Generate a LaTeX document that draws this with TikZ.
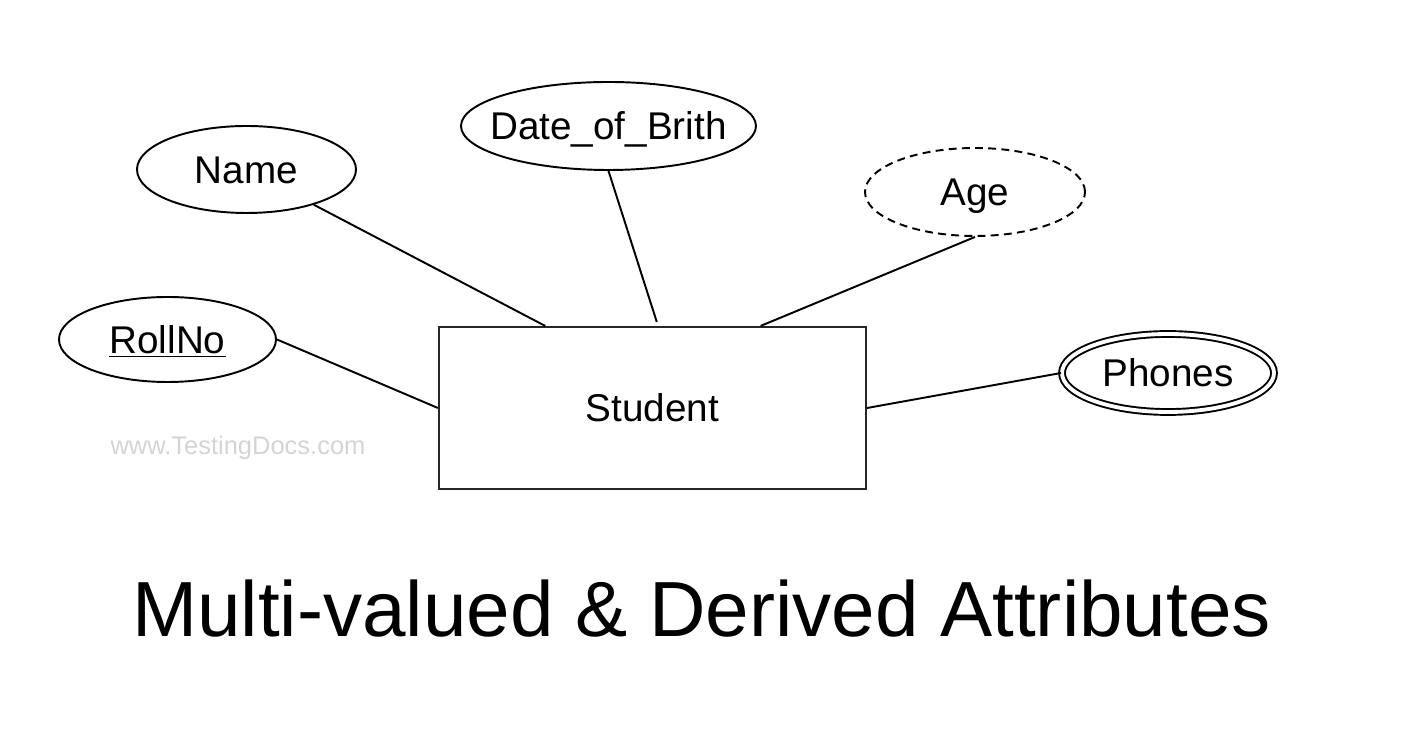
\documentclass[tikz,border=0pt]{standalone}
\usepackage{fontspec}
\setmainfont{Liberation Sans}
\usetikzlibrary{shapes.geometric,calc}

\tikzset{
  attr/.style={ellipse, draw, line width=1.1pt, inner sep=0pt,
    font=\fontsize{22}{26}\selectfont, text height=15.8pt, text depth=0pt},
  entity/.style={rectangle, draw=black!85, line width=1.2pt, inner sep=0pt,
    minimum width=8.54cm, minimum height=3.24cm,
    font=\fontsize{22}{26}\selectfont, text height=15.8pt, text depth=0pt},
  link/.style={line width=1.1pt}
}

\begin{document}
\begin{tikzpicture}[scale=1]
  \useasboundingbox (0,0) rectangle (28.48,14.58);

  \node[entity] (student) at (13.05,6.42) {Student};

  \node[attr, minimum width=4.38cm, minimum height=1.74cm] (name) at (4.93,11.19) {Name};
  \node[attr, inner xsep=-0.31cm, minimum width=5.9cm, minimum height=1.76cm] (dob) at (12.17,12.06) {Date\_of\_Brith};
  \node[attr, dash pattern=on 4.5pt off 3pt, minimum width=4.4cm, minimum height=1.76cm] (age) at (19.5,10.74) {Age};
  \node[attr, minimum width=4.34cm, minimum height=1.70cm] (rollno) at (3.35,7.79) {\underline{RollNo}};
  \node[attr, double, double distance=2.2pt,
    minimum width=4.24cm, minimum height=1.56cm] (phones) at (23.36,7.12) {Phones};

  \coordinate (topA) at ($(student.north west)!0.25!(student.north east)$);
  \coordinate (topB) at ($(student.north west)!0.51!(student.north east) + (0,0.08)$);
  \coordinate (topC) at ($(student.north west)!0.752!(student.north east)$);

  \draw[link] (name) -- (topA);
  \draw[link] (dob.south) -- (topB);
  \draw[link] (age.south) -- (topC);
  \draw[link] (rollno.east) -- (student.west);
  \draw[link] (student.east) -- (phones.west);

  \node[text=black!17, font=\fontsize{14.5}{17}\selectfont, anchor=base] (site) at (4.76,5.48) {www.TestingDocs.com};
  \node[font=\fontsize{44.5}{52}\selectfont, anchor=base] (title) at (14.03,1.84) {Multi-valued \& Derived Attributes};
\end{tikzpicture}
\end{document}
